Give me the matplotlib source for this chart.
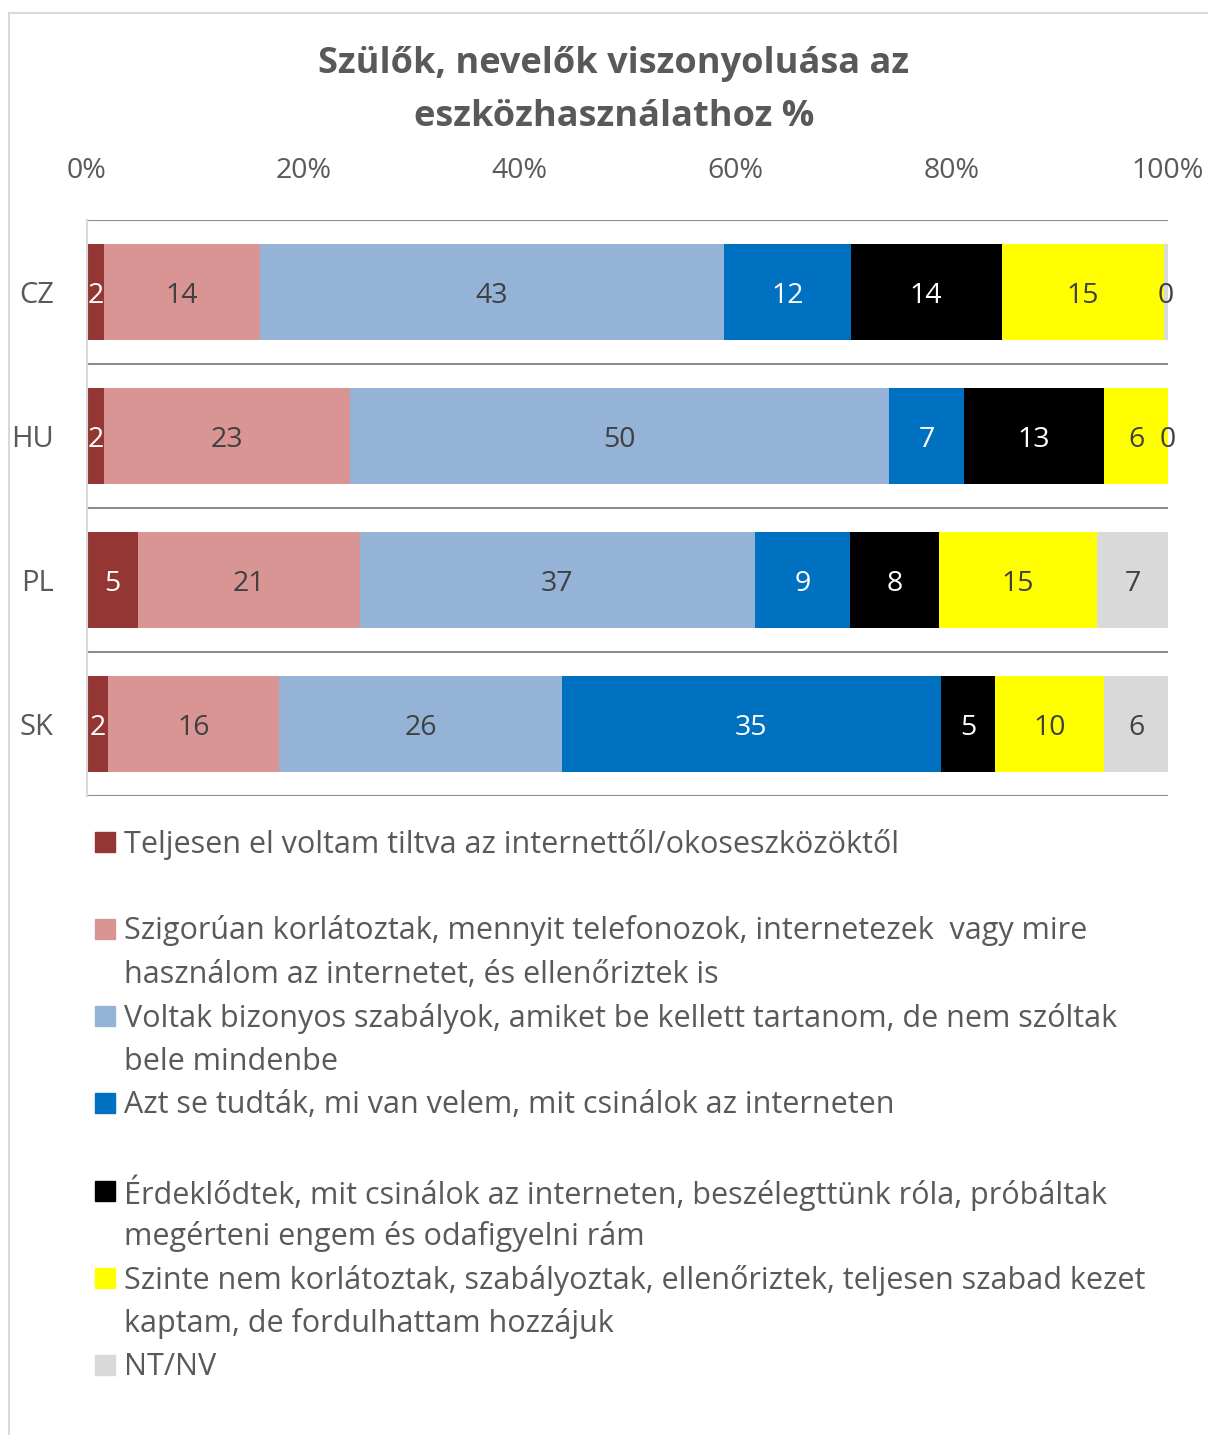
import numpy as np
import matplotlib.pyplot as plt
from matplotlib.patches import Rectangle
from matplotlib.lines import Line2D

plt.rcParams['font.family'] = ['Open Sans', 'DejaVu Sans']

W, H = 1208, 1435

countries = ['CZ', 'HU', 'PL', 'SK']
series_names = [
    'Teljesen el voltam tiltva az internettől/okoseszközöktől',
    'Szigorúan korlátoztak, mennyit telefonozok, internetezek  vagy mire\nhasználom az internetet, és ellenőriztek is',
    'Voltak bizonyos szabályok, amiket be kellett tartanom, de nem szóltak\nbele mindenbe',
    'Azt se tudták, mi van velem, mit csinálok az interneten',
    'Érdeklődtek, mit csinálok az interneten, beszélegttünk róla, próbáltak\nmegérteni engem és odafigyelni rám',
    'Szinte nem korlátoztak, szabályoztak, ellenőriztek, teljesen szabad kezet\nkaptam, de fordulhattam hozzájuk',
    'NT/NV',
]
colors = ['#943634', '#D99594', '#95B3D7', '#0070C0', '#000000', '#FFFF00', '#D9D9D9']
label_colors = ['white', '#404040', '#404040', 'white', 'white', '#404040', '#404040']

# values per country, one array per series (CZ, HU, PL, SK)
tiltva = np.array([1.6, 1.6, 4.7, 1.9])
szigoru = np.array([14.4, 22.7, 20.6, 15.9])
szabalyok = np.array([43.0, 49.9, 36.6, 26.1])
nem_tudtak = np.array([11.7, 6.9, 8.8, 35.1])
erdeklodtek = np.array([14.0, 13.0, 8.3, 5.0])
szabad = np.array([15.0, 5.9, 14.6, 10.1])
ntnv = np.array([0.4, 0.0, 6.6, 5.9])

data = np.vstack([tiltva, szigoru, szabalyok, nem_tudtak, erdeklodtek, szabad, ntnv])
shares = data / data.sum(axis=0) * 100

fig = plt.figure(figsize=(W / 100, H / 100), dpi=100)

# chart border (partially visible)
fig.add_artist(Line2D([9 / W, 1], [1 - 13 / H, 1 - 13 / H], color='#d9d9d9', lw=1.5))
fig.add_artist(Line2D([9 / W, 9 / W], [0, 1 - 13 / H], color='#d9d9d9', lw=1.5))

fig.text(614 / W, 1 - 64 / H, 'Szülők, nevelők viszonyoluása az', ha='center', va='center',
         fontsize=26, fontweight='bold', color='#595959')
fig.text(614 / W, 1 - 117 / H, 'eszközhasználathoz %', ha='center', va='center',
         fontsize=26, fontweight='bold', color='#595959')

ax = fig.add_axes([87 / W, 1 - 796 / H, (1168 - 87) / W, (796 - 220) / H])
y = np.arange(len(countries))
left = np.zeros(len(countries))
for i in range(len(series_names)):
    ax.barh(y, shares[i], left=left, height=0.667, color=colors[i], edgecolor='none')
    for j in range(len(countries)):
        ax.text(left[j] + shares[i][j] / 2, y[j] + 0.025, f'{data[i][j]:.0f}', ha='center', va='center',
                fontsize=20.5, color=label_colors[i])
    left += shares[i]

ax.set_xlim(0, 100)
ax.set_ylim(3.5, -0.5)
for b in np.arange(-0.5, 4, 1):
    ax.axhline(b, color='#8c8c8c', lw=1.5, zorder=0)
ax.xaxis.tick_top()
ax.set_xticks(np.arange(0, 101, 20))
ax.set_xticklabels([f'{t}%' for t in range(0, 101, 20)])
ax.set_yticks(y)
ax.set_yticklabels(countries)
ax.tick_params(axis='x', length=0, pad=25, labelsize=20.5, labelcolor='#595959')
ax.tick_params(axis='y', length=0, pad=24, labelsize=21, labelcolor='#595959')
for s in ['top', 'right', 'bottom']:
    ax.spines[s].set_visible(False)
ax.spines['left'].set_color('#d9d9d9')
ax.spines['left'].set_linewidth(1.5)

# legend
legend_y = [841, 928, 1015, 1102, 1190, 1277, 1364]
line_gap = 43.6
for name, c, ly in zip(series_names, colors, legend_y):
    fig.add_artist(Rectangle((95 / W, 1 - (ly + 11) / H), 20 / W, 20 / H, color=c,
                             transform=fig.transFigure))
    for k, line in enumerate(name.split('\n')):
        fig.text(124 / W, 1 - (ly + 3 + k * line_gap) / H, line, ha='left', va='center',
                 fontsize=22, color='#595959')

fig.savefig('out.png', dpi=100)
